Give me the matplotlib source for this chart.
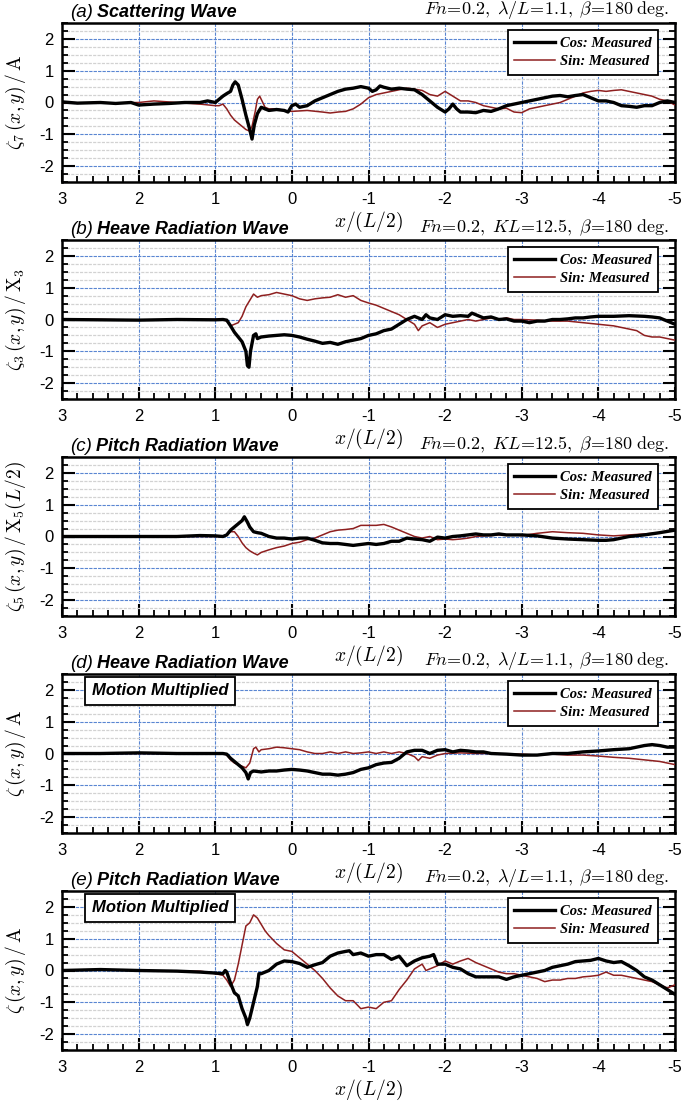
import matplotlib
matplotlib.use("Agg")
import matplotlib.pyplot as plt
from matplotlib.ticker import MultipleLocator, FixedLocator

plt.rcParams['mathtext.fontset'] = 'cm'
plt.rcParams['axes.unicode_minus'] = False
plt.rcParams['font.family'] = ['Liberation Sans', 'DejaVu Sans']

# ---------------- data ----------------
# panel (a) Scattering wave
a_cos_x = [3.0, 2.8, 2.5, 2.3, 2.1, 2.0, 1.8, 1.6, 1.4, 1.2, 1.1, 1.0, 0.95, 0.9, 0.85, 0.8, 0.77, 0.74, 0.7, 0.65, 0.6, 0.55, 0.52, 0.49, 0.45, 0.4, 0.3, 0.2, 0.1, 0.05, 0.0, -0.05, -0.1, -0.2, -0.3, -0.4, -0.5, -0.6, -0.7, -0.8, -0.9, -1.0, -1.05, -1.1, -1.15, -1.2, -1.3, -1.4, -1.5, -1.6, -1.7, -1.8, -1.9, -2.0, -2.05, -2.1, -2.15, -2.2, -2.3, -2.4, -2.5, -2.6, -2.7, -2.8, -2.9, -3.0, -3.1, -3.2, -3.3, -3.4, -3.5, -3.6, -3.7, -3.8, -3.9, -4.0, -4.1, -4.2, -4.3, -4.4, -4.5, -4.6, -4.7, -4.8, -4.9, -5.0]
a_cos_y = [0.02, -0.02, 0.0, -0.03, 0.0, -0.08, -0.05, -0.03, 0.0, 0.0, 0.05, 0.0, 0.1, 0.2, 0.28, 0.35, 0.55, 0.65, 0.55, 0.1, -0.4, -0.85, -1.15, -0.7, -0.35, -0.15, -0.25, -0.22, -0.25, -0.3, -0.1, -0.05, -0.15, -0.1, 0.05, 0.15, 0.25, 0.35, 0.42, 0.45, 0.5, 0.45, 0.35, 0.4, 0.52, 0.48, 0.42, 0.45, 0.42, 0.4, 0.25, 0.05, -0.15, -0.3, -0.2, -0.05, -0.2, -0.3, -0.3, -0.32, -0.25, -0.28, -0.2, -0.1, -0.05, 0.0, 0.05, 0.1, 0.15, 0.2, 0.22, 0.18, 0.22, 0.25, 0.15, 0.05, 0.05, 0.0, -0.1, -0.12, -0.15, -0.1, -0.1, 0.0, 0.05, 0.0]
a_sin_x = [3.0, 2.5, 2.0, 1.8, 1.5, 1.2, 1.0, 0.95, 0.9, 0.85, 0.8, 0.75, 0.7, 0.65, 0.6, 0.55, 0.52, 0.48, 0.45, 0.42, 0.38, 0.35, 0.3, 0.2, 0.1, 0.0, -0.2, -0.4, -0.5, -0.6, -0.7, -0.8, -0.9, -1.0, -1.1, -1.2, -1.3, -1.4, -1.5, -1.6, -1.7, -1.8, -1.9, -2.0, -2.1, -2.2, -2.3, -2.4, -2.5, -2.6, -2.7, -2.8, -2.9, -3.0, -3.1, -3.2, -3.3, -3.4, -3.5, -3.6, -3.7, -3.8, -3.9, -4.0, -4.1, -4.2, -4.3, -4.4, -4.5, -4.6, -4.7, -4.8, -4.9, -5.0]
a_sin_y = [0.0, -0.02, 0.0, 0.05, 0.0, -0.05, -0.1, -0.1, -0.05, -0.2, -0.4, -0.55, -0.65, -0.75, -0.85, -0.9, -0.75, -0.3, 0.1, 0.2, 0.0, -0.15, -0.2, -0.2, -0.25, -0.28, -0.25, -0.3, -0.33, -0.3, -0.28, -0.2, -0.05, 0.15, 0.25, 0.3, 0.35, 0.4, 0.45, 0.42, 0.38, 0.25, 0.2, 0.35, 0.2, 0.05, 0.05, 0.0, -0.1, -0.15, -0.2, -0.18, -0.3, -0.32, -0.2, -0.15, -0.1, -0.05, 0.0, 0.1, 0.2, 0.3, 0.35, 0.38, 0.35, 0.38, 0.4, 0.35, 0.3, 0.25, 0.2, 0.1, 0.05, -0.08]

# panel (b) Heave radiation wave
b_cos_x = [3.0, 2.5, 2.0, 1.5, 1.0, 0.9, 0.85, 0.8, 0.75, 0.7, 0.65, 0.6, 0.58, 0.56, 0.54, 0.5, 0.47, 0.45, 0.4, 0.3, 0.2, 0.1, 0.0, -0.1, -0.2, -0.3, -0.4, -0.5, -0.6, -0.7, -0.8, -0.9, -1.0, -1.1, -1.2, -1.3, -1.4, -1.5, -1.6, -1.7, -1.75, -1.8, -1.9, -2.0, -2.1, -2.2, -2.3, -2.35, -2.4, -2.5, -2.6, -2.7, -2.8, -2.9, -3.0, -3.1, -3.2, -3.3, -3.4, -3.5, -3.6, -3.7, -3.8, -3.9, -4.0, -4.2, -4.4, -4.6, -4.7, -4.8, -4.9, -5.0]
b_cos_y = [0.0, -0.01, -0.02, 0.0, -0.01, 0.0, -0.02, -0.2, -0.4, -0.55, -0.7, -1.0, -1.45, -1.5, -1.0, -0.5, -0.45, -0.6, -0.55, -0.52, -0.5, -0.48, -0.5, -0.55, -0.62, -0.68, -0.75, -0.72, -0.78, -0.7, -0.65, -0.6, -0.5, -0.45, -0.35, -0.3, -0.15, 0.0, 0.1, 0.0, 0.15, 0.05, 0.0, 0.15, 0.1, 0.12, 0.1, 0.2, 0.15, 0.05, 0.08, 0.0, 0.02, -0.05, -0.05, -0.1, -0.05, -0.05, 0.0, 0.0, 0.02, 0.05, 0.05, 0.08, 0.1, 0.1, 0.12, 0.1, 0.08, 0.05, -0.05, -0.15]
b_sin_x = [3.0, 2.5, 2.0, 1.5, 1.0, 0.9, 0.85, 0.8, 0.75, 0.7, 0.65, 0.6, 0.55, 0.5, 0.45, 0.4, 0.3, 0.2, 0.1, 0.0, -0.1, -0.2, -0.3, -0.4, -0.5, -0.6, -0.7, -0.8, -0.9, -1.0, -1.1, -1.2, -1.3, -1.4, -1.5, -1.6, -1.65, -1.7, -1.8, -1.9, -2.0, -2.1, -2.2, -2.3, -2.4, -2.5, -2.6, -2.7, -2.8, -2.9, -3.0, -3.2, -3.4, -3.6, -3.8, -4.0, -4.2, -4.4, -4.5, -4.6, -4.7, -4.8, -4.9, -5.0]
b_sin_y = [0.0, 0.0, -0.02, 0.0, 0.0, 0.0, -0.05, -0.2, -0.15, -0.1, 0.1, 0.4, 0.6, 0.8, 0.7, 0.75, 0.78, 0.85, 0.8, 0.75, 0.65, 0.6, 0.65, 0.68, 0.7, 0.78, 0.7, 0.75, 0.6, 0.52, 0.45, 0.35, 0.25, 0.15, 0.0, -0.15, -0.35, -0.2, -0.1, -0.25, -0.15, -0.1, -0.05, 0.0, -0.05, 0.0, 0.05, 0.0, 0.05, 0.0, 0.0, -0.02, -0.05, -0.05, -0.1, -0.15, -0.2, -0.3, -0.35, -0.5, -0.55, -0.55, -0.6, -0.65]

# panel (c) Pitch radiation wave
c_cos_x = [3.0, 2.5, 2.0, 1.5, 1.3, 1.2, 1.0, 0.9, 0.85, 0.8, 0.75, 0.7, 0.65, 0.62, 0.58, 0.55, 0.5, 0.45, 0.4, 0.3, 0.2, 0.1, 0.0, -0.1, -0.2, -0.3, -0.4, -0.5, -0.6, -0.7, -0.8, -0.9, -1.0, -1.1, -1.2, -1.3, -1.4, -1.5, -1.6, -1.7, -1.8, -1.9, -2.0, -2.1, -2.2, -2.3, -2.4, -2.5, -2.6, -2.7, -2.8, -2.9, -3.0, -3.2, -3.4, -3.6, -3.8, -4.0, -4.1, -4.2, -4.3, -4.4, -4.6, -4.8, -5.0]
c_cos_y = [0.0, 0.0, 0.0, 0.0, 0.02, 0.03, 0.02, 0.0, 0.05, 0.2, 0.3, 0.4, 0.5, 0.62, 0.45, 0.3, 0.15, 0.12, 0.1, 0.0, -0.05, -0.05, -0.08, -0.05, -0.05, -0.12, -0.2, -0.22, -0.22, -0.25, -0.28, -0.25, -0.22, -0.25, -0.22, -0.15, -0.15, -0.05, -0.08, -0.1, -0.15, -0.02, -0.05, 0.0, 0.02, 0.05, 0.08, 0.05, 0.05, 0.08, 0.05, 0.05, 0.05, 0.02, -0.05, -0.08, -0.1, -0.12, -0.12, -0.1, -0.05, 0.0, 0.05, 0.12, 0.2]
c_sin_x = [3.0, 2.5, 2.0, 1.5, 1.0, 0.9, 0.85, 0.8, 0.75, 0.7, 0.65, 0.6, 0.55, 0.5, 0.45, 0.4, 0.3, 0.2, 0.1, 0.0, -0.1, -0.2, -0.3, -0.4, -0.5, -0.6, -0.7, -0.8, -0.9, -1.0, -1.1, -1.2, -1.3, -1.4, -1.5, -1.6, -1.7, -1.8, -1.9, -2.0, -2.1, -2.2, -2.3, -2.4, -2.5, -2.6, -2.7, -2.8, -2.9, -3.0, -3.2, -3.4, -3.6, -3.8, -4.0, -4.2, -4.4, -4.6, -4.8, -5.0]
c_sin_y = [0.0, 0.0, 0.0, 0.0, 0.0, 0.0, 0.05, 0.15, 0.15, 0.0, -0.2, -0.35, -0.45, -0.52, -0.58, -0.5, -0.42, -0.35, -0.3, -0.22, -0.18, -0.1, -0.05, 0.05, 0.15, 0.2, 0.22, 0.25, 0.35, 0.35, 0.35, 0.38, 0.3, 0.2, 0.1, 0.0, -0.05, 0.0, -0.1, -0.08, -0.1, -0.08, -0.05, 0.0, 0.02, 0.03, 0.05, 0.05, 0.05, 0.03, 0.1, 0.15, 0.12, 0.1, 0.05, 0.02, 0.05, 0.08, 0.12, 0.22]

# panel (d) Heave radiation wave, motion multiplied
d_cos_x = [3.0, 2.5, 2.0, 1.5, 1.0, 0.9, 0.85, 0.8, 0.75, 0.7, 0.65, 0.6, 0.57, 0.54, 0.5, 0.4, 0.3, 0.2, 0.1, 0.0, -0.1, -0.2, -0.3, -0.4, -0.5, -0.6, -0.7, -0.8, -0.9, -1.0, -1.1, -1.2, -1.3, -1.4, -1.5, -1.6, -1.7, -1.8, -1.9, -2.0, -2.1, -2.2, -2.3, -2.4, -2.5, -2.6, -2.8, -3.0, -3.2, -3.4, -3.6, -3.8, -4.0, -4.2, -4.4, -4.6, -4.7, -4.8, -4.9, -5.0]
d_cos_y = [0.0, 0.0, 0.02, 0.0, 0.0, 0.0, -0.02, -0.15, -0.25, -0.35, -0.45, -0.6, -0.8, -0.6, -0.55, -0.58, -0.55, -0.55, -0.52, -0.5, -0.52, -0.55, -0.6, -0.65, -0.65, -0.68, -0.65, -0.6, -0.5, -0.45, -0.35, -0.3, -0.28, -0.15, 0.05, 0.1, 0.1, 0.0, 0.1, 0.12, 0.05, 0.1, 0.08, 0.05, 0.05, 0.0, -0.02, -0.05, -0.05, 0.0, 0.0, 0.05, 0.08, 0.12, 0.15, 0.25, 0.28, 0.25, 0.2, 0.2]
d_sin_x = [3.0, 2.5, 2.0, 1.5, 1.0, 0.9, 0.85, 0.8, 0.75, 0.7, 0.65, 0.6, 0.55, 0.5, 0.47, 0.43, 0.4, 0.3, 0.2, 0.1, 0.0, -0.1, -0.2, -0.3, -0.4, -0.5, -0.6, -0.7, -0.8, -0.9, -1.0, -1.1, -1.2, -1.3, -1.4, -1.5, -1.6, -1.65, -1.7, -1.8, -1.9, -2.0, -2.2, -2.4, -2.6, -2.8, -3.0, -3.2, -3.4, -3.6, -3.8, -4.0, -4.2, -4.4, -4.6, -4.8, -5.0]
d_sin_y = [0.0, 0.0, 0.0, 0.0, 0.0, 0.0, -0.05, -0.2, -0.3, -0.35, -0.4, -0.45, -0.3, 0.15, 0.2, 0.05, 0.12, 0.15, 0.2, 0.18, 0.15, 0.12, 0.05, 0.0, 0.0, 0.05, 0.0, 0.05, 0.0, 0.02, 0.05, 0.0, 0.05, 0.0, 0.05, 0.0, -0.1, -0.22, -0.1, -0.15, -0.05, 0.0, 0.02, 0.0, 0.0, -0.02, -0.02, -0.05, -0.02, -0.05, -0.05, -0.08, -0.12, -0.15, -0.2, -0.25, -0.35]

# panel (e) Pitch radiation wave, motion multiplied
e_cos_x = [3.0, 2.5, 2.0, 1.5, 1.2, 1.0, 0.9, 0.87, 0.85, 0.8, 0.75, 0.7, 0.65, 0.6, 0.58, 0.55, 0.5, 0.45, 0.43, 0.4, 0.35, 0.3, 0.2, 0.1, 0.0, -0.1, -0.2, -0.3, -0.4, -0.5, -0.6, -0.7, -0.75, -0.8, -0.9, -1.0, -1.1, -1.2, -1.3, -1.4, -1.5, -1.6, -1.7, -1.8, -1.85, -1.9, -2.0, -2.1, -2.2, -2.3, -2.4, -2.5, -2.6, -2.7, -2.8, -2.9, -3.0, -3.1, -3.2, -3.3, -3.4, -3.5, -3.6, -3.7, -3.8, -3.9, -4.0, -4.1, -4.2, -4.3, -4.4, -4.5, -4.6, -4.7, -4.8, -4.9, -5.0]
e_cos_y = [0.0, 0.03, 0.0, -0.02, -0.05, -0.08, -0.1, 0.0, -0.05, -0.4, -0.7, -0.8, -1.2, -1.5, -1.7, -1.5, -1.0, -0.5, -0.1, -0.1, -0.05, 0.0, 0.2, 0.3, 0.28, 0.22, 0.1, 0.18, 0.25, 0.45, 0.55, 0.6, 0.62, 0.5, 0.55, 0.45, 0.5, 0.5, 0.35, 0.45, 0.15, 0.3, 0.4, 0.45, 0.5, 0.2, 0.2, 0.1, 0.05, -0.1, -0.2, -0.2, -0.2, -0.2, -0.28, -0.2, -0.15, -0.1, -0.05, 0.0, 0.1, 0.15, 0.2, 0.28, 0.3, 0.32, 0.38, 0.3, 0.25, 0.28, 0.15, 0.0, -0.2, -0.3, -0.45, -0.6, -0.75]
e_sin_x = [3.0, 2.5, 2.0, 1.5, 1.2, 1.1, 1.0, 0.9, 0.85, 0.8, 0.75, 0.7, 0.65, 0.6, 0.55, 0.5, 0.45, 0.4, 0.35, 0.3, 0.2, 0.1, 0.0, -0.1, -0.2, -0.3, -0.4, -0.5, -0.6, -0.7, -0.8, -0.9, -1.0, -1.1, -1.2, -1.3, -1.4, -1.5, -1.6, -1.7, -1.75, -1.8, -1.9, -2.0, -2.1, -2.2, -2.3, -2.4, -2.5, -2.6, -2.7, -2.8, -2.9, -3.0, -3.1, -3.2, -3.3, -3.4, -3.5, -3.6, -3.7, -3.8, -3.9, -4.0, -4.1, -4.2, -4.3, -4.4, -4.5, -4.6, -4.7, -4.8, -4.9, -5.0]
e_sin_y = [0.0, 0.02, 0.0, -0.02, -0.02, -0.05, -0.1, -0.15, -0.3, -0.5, -0.3, 0.2, 0.8, 1.4, 1.5, 1.75, 1.65, 1.45, 1.25, 1.1, 0.85, 0.65, 0.6, 0.4, 0.2, 0.0, -0.25, -0.55, -0.8, -0.95, -0.95, -1.2, -1.15, -1.2, -1.0, -0.95, -0.6, -0.3, 0.05, 0.2, 0.0, 0.05, 0.15, 0.3, 0.2, 0.3, 0.38, 0.25, 0.15, 0.05, -0.05, -0.1, -0.1, -0.15, -0.2, -0.25, -0.35, -0.3, -0.3, -0.25, -0.25, -0.2, -0.18, -0.15, -0.05, -0.15, -0.15, -0.2, -0.25, -0.3, -0.35, -0.45, -0.55, -0.45]

panel_letters = ['a', 'b', 'c', 'd', 'e']
panel_titles = ['Scattering Wave', 'Heave Radiation Wave', 'Pitch Radiation Wave',
                'Heave Radiation Wave', 'Pitch Radiation Wave']
panel_conditions = [r'$Fn\!=\!0.2,\;\lambda/L\!=\!1.1,\;\beta\!=\!180\;\mathrm{deg.}$',
                    r'$Fn\!=\!0.2,\;KL\!=\!12.5,\;\beta\!=\!180\;\mathrm{deg.}$',
                    r'$Fn\!=\!0.2,\;KL\!=\!12.5,\;\beta\!=\!180\;\mathrm{deg.}$',
                    r'$Fn\!=\!0.2,\;\lambda/L\!=\!1.1,\;\beta\!=\!180\;\mathrm{deg.}$',
                    r'$Fn\!=\!0.2,\;\lambda/L\!=\!1.1,\;\beta\!=\!180\;\mathrm{deg.}$']
panel_ylabels = [r'$\zeta_7\,(x,y)\,/\,\mathrm{A}$',
                 r'$\zeta_3\,(x,y)\,/\,\mathrm{X}_3$',
                 r'$\zeta_5\,(x,y)\,/\,\mathrm{X}_5(L/2)$',
                 r'$\zeta\,(x,y)\,/\,\mathrm{A}$',
                 r'$\zeta\,(x,y)\,/\,\mathrm{A}$']
motion_box = [False, False, False, True, True]
cos_series = [(a_cos_x, a_cos_y), (b_cos_x, b_cos_y), (c_cos_x, c_cos_y), (d_cos_x, d_cos_y), (e_cos_x, e_cos_y)]
sin_series = [(a_sin_x, a_sin_y), (b_sin_x, b_sin_y), (c_sin_x, c_sin_y), (d_sin_x, d_sin_y), (e_sin_x, e_sin_y)]
x_ticks = [3, 2, 1, 0, -1, -2, -3, -4, -5]
y_ticks = [-2, -1, 0, 1, 2]
legend_labels = ['Cos: Measured', 'Sin: Measured']

# ---------------- figure ----------------
W, H = 682, 1105
fig = plt.figure(figsize=(W / 100, H / 100), dpi=100)

ax_left, ax_right = 62, 675
ax_height = 159
tops = [23, 240, 457, 674, 891]

BLUE = '#5A86D2'
RED = '#8E1F1F'

for i in range(5):
    top = tops[i]
    ax = fig.add_axes([ax_left / W, 1 - (top + ax_height) / H,
                       (ax_right - ax_left) / W, ax_height / H])
    cx, cy = cos_series[i]
    sx, sy = sin_series[i]
    ax.plot(cx, cy, color='black', lw=2.4, label=legend_labels[0], zorder=4)
    ax.plot(sx, sy, color=RED, lw=1.1, label=legend_labels[1], zorder=3)

    ax.set_xlim(3, -5)
    ax.set_ylim(-2.5, 2.5)
    ax.xaxis.set_major_locator(FixedLocator(x_ticks))
    ax.xaxis.set_minor_locator(MultipleLocator(0.2))
    ax.yaxis.set_major_locator(FixedLocator(y_ticks))
    ax.yaxis.set_minor_locator(MultipleLocator(0.25))
    ax.set_xticklabels([str(t) for t in x_ticks])
    ax.set_yticklabels([str(t) for t in y_ticks])

    ax.yaxis.grid(True, which='minor', color='#D2D2D2', lw=0.9, ls=(0, (2.5, 1)))
    ax.yaxis.grid(True, which='major', color=BLUE, lw=0.8, ls=(0, (3, 1)))
    ax.xaxis.grid(True, which='major', color=BLUE, lw=0.8, ls=(0, (3, 1)))
    ax.set_axisbelow(True)

    ax.tick_params(axis='both', which='major', direction='in', length=9, width=1.5,
                   labelsize=12, top=False, right=True)
    ax.tick_params(axis='both', which='minor', direction='in', length=4.5, width=1.3,
                   top=False, right=True)
    ax.tick_params(axis='x', which='major', pad=7)
    ax.tick_params(axis='y', which='major', pad=6)
    for sp in ax.spines.values():
        sp.set_linewidth(1.8)

    ax.set_xlabel(r'$x/(L/2)$', fontsize=14)
    ax.xaxis.set_label_coords(0.5, -0.175)
    ax.set_ylabel(panel_ylabels[i], fontsize=14)
    ax.yaxis.set_label_coords(-0.055, 0.5)

    # titles
    t1 = ax.annotate('(' + panel_letters[i] + ')', xy=(0.013, 1.012), xycoords='axes fraction',
                     ha='left', va='bottom', fontsize=13.5, style='italic')
    ax.annotate(panel_titles[i], xy=(1, 0), xycoords=t1, xytext=(3, 0),
                textcoords='offset points', ha='left', va='bottom',
                fontsize=13, fontweight='bold', style='italic')
    ax.text(0.99, 1.012, panel_conditions[i], transform=ax.transAxes,
            ha='right', va='bottom', fontsize=13)

    leg = ax.legend(loc='upper right', bbox_to_anchor=(0.972, 0.955), borderaxespad=0,
                    fancybox=False, framealpha=1, edgecolor='black',
                    prop={'family': 'Liberation Serif', 'weight': 'bold', 'style': 'italic', 'size': 10.5},
                    handlelength=2.8, handletextpad=0.3, labelspacing=0.35,
                    borderpad=0.45)
    leg.get_frame().set_linewidth(1.3)
    leg.set_zorder(6)

    if motion_box[i]:
        ax.text(0.16, 0.895, 'Motion Multiplied', transform=ax.transAxes,
                ha='center', va='center', fontsize=12, fontweight='bold', style='italic',
                bbox=dict(boxstyle='square,pad=0.4', fc='white', ec='black', lw=1.3),
                zorder=6)

fig.savefig('out.png', dpi=100)
